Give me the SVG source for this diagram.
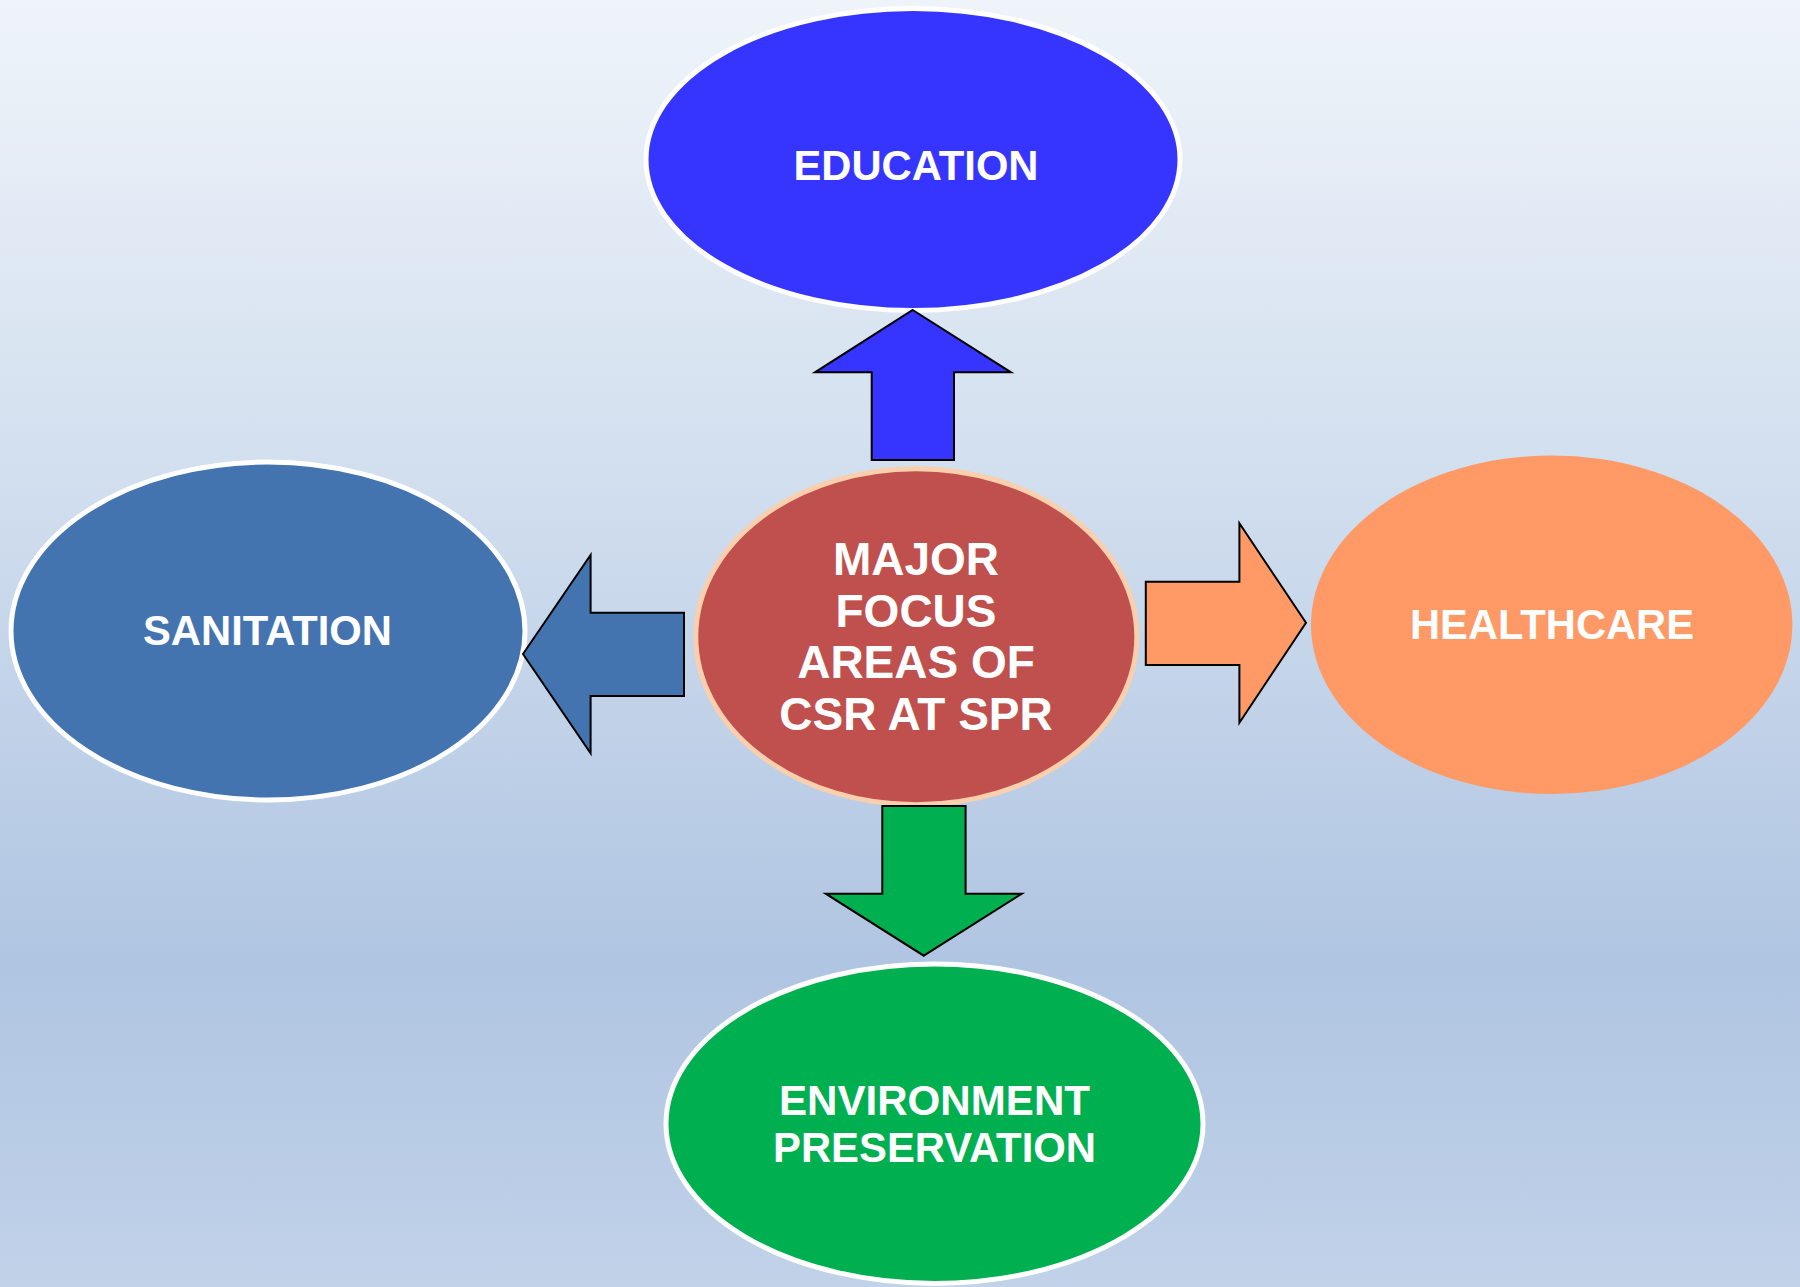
<svg xmlns="http://www.w3.org/2000/svg" width="1800" height="1287" viewBox="0 0 1800 1287">
<defs>
<linearGradient id="bg" x1="0" y1="0" x2="0" y2="1">
<stop offset="0" stop-color="#EFF4FA"/>
<stop offset="0.35" stop-color="#D3E0EF"/>
<stop offset="0.75" stop-color="#B0C5E2"/>
<stop offset="1" stop-color="#C1D2E9"/>
</linearGradient>
<style>
.lbl{font-family:"Liberation Sans",Arial,sans-serif;font-weight:bold;fill:#FFFFFF;text-anchor:middle;}
.arrow{stroke:#000000;stroke-width:2;stroke-linejoin:miter;}
.ring{stroke:#FFFFFF;stroke-width:5;}
</style>
</defs>
<rect x="0" y="0" width="1800" height="1287" fill="url(#bg)"/>
<g id="education">
<ellipse class="ring" cx="913" cy="159.5" rx="267" ry="151" fill="#3535FF"/>
<text class="lbl" x="916" y="180" font-size="43" textLength="245" lengthAdjust="spacingAndGlyphs">EDUCATION</text>
</g>
<g id="sanitation">
<ellipse class="ring" cx="268" cy="631" rx="257" ry="169" fill="#4474B0"/>
<text class="lbl" x="267.5" y="645" font-size="43" textLength="249" lengthAdjust="spacingAndGlyphs">SANITATION</text>
</g>
<g id="healthcare">
<ellipse cx="1551.7" cy="624.8" rx="240.7" ry="169.2" fill="#FF9966"/>
<text class="lbl" x="1552" y="639" font-size="43" textLength="284" lengthAdjust="spacingAndGlyphs">HEALTHCARE</text>
</g>
<g id="environment">
<ellipse class="ring" cx="934.5" cy="1123.7" rx="268.5" ry="159.7" fill="#00AF50"/>
<text class="lbl" x="934.5" y="1115" font-size="42" textLength="311" lengthAdjust="spacingAndGlyphs">ENVIRONMENT</text>
<text class="lbl" x="934.5" y="1162" font-size="42" textLength="323" lengthAdjust="spacingAndGlyphs">PRESERVATION</text>
</g>
<g id="center">
<ellipse cx="916.3" cy="636.7" rx="220.5" ry="168" fill="#C0504D" stroke="#F9CFAE" stroke-width="5"/>
<text class="lbl" x="916" y="575" font-size="46">MAJOR</text>
<text class="lbl" x="916" y="626.7" font-size="46">FOCUS</text>
<text class="lbl" x="916" y="678.3" font-size="46">AREAS OF</text>
<text class="lbl" x="916" y="730" font-size="46">CSR AT SPR</text>
</g>
<g id="connectors">
<polygon class="arrow" fill="#3535FF" points="912.7,310 1011,372.3 954,372.3 954,460 871.7,460 871.7,372.3 815,372.3"/>
<polygon class="arrow" fill="#4474B0" points="523,654 590.6,555 590.6,612.7 684,612.7 684,696 590.6,696 590.6,753.3"/>
<polygon class="arrow" fill="#FF9966" points="1306,622.7 1239.4,523.3 1239.4,581.7 1145.8,581.7 1145.8,665 1239.4,665 1239.4,722.7"/>
<polygon class="arrow" fill="#00AF50" points="923.8,955.7 1021.8,893.7 965.6,893.7 965.6,806 882.3,806 882.3,893.7 825.7,893.7"/>
</g>
</svg>
